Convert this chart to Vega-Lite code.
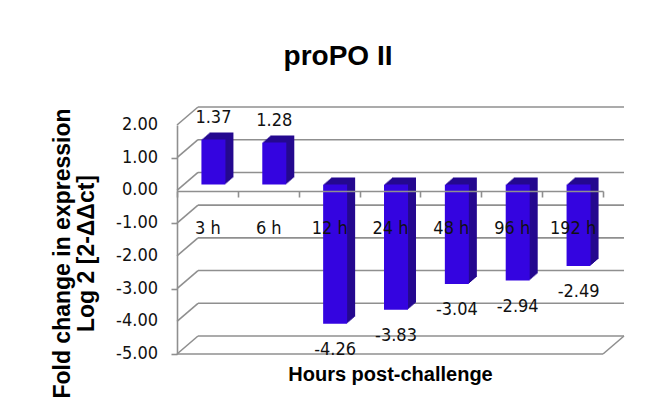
{
  "$schema": "https://vega.github.io/schema/vega-lite/v6.json",
  "width": 426,
  "height": 229,
  "autosize": {"type": "none"},
  "padding": {"left": 177, "top": 125, "right": 59, "bottom": 62},
  "background": "white",
  "config": {
    "view": {"stroke": null},
    "locale": {"number": {"decimal": ".", "thousands": ",", "grouping": [3], "currency": ["$", ""], "minus": "-"}}
  },
  "title": {"text": "proPO II", "font": "Liberation Sans", "fontSize": 28, "fontWeight": "bold", "color": "#000000", "anchor": "middle", "frame": "group", "dx": -52, "baseline": "alphabetic", "offset": 0, "dy": -13},
  "datasets": {
    "bars": [
      {"t": "3 h", "v": 1.37},
      {"t": "6 h", "v": 1.28},
      {"t": "12 h", "v": -4.26},
      {"t": "24 h", "v": -3.83},
      {"t": "48 h", "v": -3.04},
      {"t": "96 h", "v": -2.94},
      {"t": "192 h", "v": -2.49}
    ],
    "grid": [{"g": -5}, {"g": -4}, {"g": -3}, {"g": -2}, {"g": -1}, {"g": 0}, {"g": 1}, {"g": 2}]
  },
  "layer": [
    {
      "data": {"name": "grid"},
      "mark": {"type": "rule", "color": "#8f8f8f", "strokeWidth": 1.6, "xOffset": 21, "x2Offset": 21, "yOffset": -18, "y2Offset": -18},
      "encoding": {
        "x": {
          "datum": "3 h", "bandPosition": 0, "type": "nominal",
          "scale": {"type": "band", "domain": ["3 h", "6 h", "12 h", "24 h", "48 h", "96 h", "192 h"], "paddingInner": 0, "paddingOuter": 0},
          "axis": {
            "title": "Hours post-challenge", "titleFont": "Liberation Sans", "titleFontSize": 20, "titleFontWeight": "bold", "titleColor": "#000000",
            "titleY": 183, "titleBaseline": "middle",
            "offset": -163, "zindex": 1,
            "domainColor": "#8f8f8f", "domainWidth": 1.6,
            "ticks": true, "tickBand": "extent", "tickColor": "#8f8f8f", "tickWidth": 1.6, "tickSize": 6,
            "labelAngle": 0, "labelFont": "Liberation Sans Narrow, DejaVu Sans Condensed, sans-serif", "labelFontSize": 18, "labelColor": "#111111",
            "labelBaseline": "middle", "labelPadding": 31
          }
        },
        "x2": {"datum": "192 h", "bandPosition": 1},
        "y": {
          "field": "g", "type": "quantitative",
          "scale": {"domain": [-5, 2], "nice": false, "zero": false},
          "axis": {
            "title": ["Fold change in expression", "Log 2 [2-ΔΔct]"],
            "titleFont": "Liberation Sans", "titleFontSize": 23, "titleFontWeight": "bold", "titleColor": "#000000", "titleLineHeight": 24,
            "titlePadding": 72, "titleY": 128,
            "values": [-5, -4, -3, -2, -1, 0, 1, 2], "labels": false,
            "domainColor": "#8f8f8f", "domainWidth": 1.6,
            "tickColor": "#8f8f8f", "tickWidth": 1.6, "tickSize": 6,
            "grid": false
          }
        },
        "y2": {"field": "g"}
      }
    },
    {
      "data": {"name": "grid"},
      "mark": {"type": "rule", "color": "#8f8f8f", "strokeWidth": 1.6, "x2Offset": 21, "y2Offset": -18},
      "encoding": {
        "x": {"datum": "3 h", "bandPosition": 0, "type": "nominal"},
        "x2": {"datum": "3 h", "bandPosition": 0},
        "y": {"field": "g", "type": "quantitative"},
        "y2": {"field": "g"}
      }
    },
    {
      "data": {"name": "grid"},
      "mark": {"type": "text", "font": "Liberation Sans Narrow, DejaVu Sans Condensed, sans-serif", "fontSize": 18, "color": "#111111", "align": "right", "baseline": "middle", "xOffset": -19},
      "encoding": {
        "x": {"datum": "3 h", "bandPosition": 0, "type": "nominal"},
        "y": {"field": "g", "type": "quantitative"},
        "text": {"field": "g", "type": "quantitative", "format": ".2f"}
      }
    },
    {
      "data": {"name": "grid"},
      "transform": [{"filter": "datum.g == -5"}],
      "layer": [
        {
          "mark": {"type": "rule", "color": "#8f8f8f", "strokeWidth": 1.6},
          "encoding": {
            "x": {"datum": "3 h", "bandPosition": 0, "type": "nominal"},
            "x2": {"datum": "192 h", "bandPosition": 1},
            "y": {"field": "g", "type": "quantitative"}
          }
        },
        {
          "mark": {"type": "rule", "color": "#8f8f8f", "strokeWidth": 1.6, "x2Offset": 21, "y2Offset": -18},
          "encoding": {
            "x": {"datum": "192 h", "bandPosition": 1, "type": "nominal"},
            "x2": {"datum": "192 h", "bandPosition": 1},
            "y": {"field": "g", "type": "quantitative"},
            "y2": {"field": "g"}
          }
        }
      ]
    },
    {
      "data": {"name": "bars"},
      "encoding": {
        "x": {"field": "t", "type": "nominal", "sort": null},
        "y": {"field": "v", "type": "quantitative"},
        "y2": {"datum": 0}
      },
      "layer": [
        {"mark": {"type": "bar", "width": 24, "color": "#25098f", "xOffset": 14, "yOffset": -13, "y2Offset": -13}},
        {"mark": {"type": "bar", "width": 24, "color": "#25098f", "xOffset": 12.9, "yOffset": -12, "y2Offset": -12}},
        {"mark": {"type": "bar", "width": 24, "color": "#25098f", "xOffset": 11.7, "yOffset": -11, "y2Offset": -11}},
        {"mark": {"type": "bar", "width": 24, "color": "#25098f", "xOffset": 10.6, "yOffset": -10, "y2Offset": -10}},
        {"mark": {"type": "bar", "width": 24, "color": "#25098f", "xOffset": 9.4, "yOffset": -9, "y2Offset": -9}},
        {"mark": {"type": "bar", "width": 24, "color": "#25098f", "xOffset": 8.3, "yOffset": -8, "y2Offset": -8}},
        {"mark": {"type": "bar", "width": 24, "color": "#25098f", "xOffset": 7.1, "yOffset": -7, "y2Offset": -7}},
        {"mark": {"type": "bar", "width": 24, "color": "#3404e0", "xOffset": 6, "yOffset": -6, "y2Offset": -6}}
      ]
    },
    {
      "data": {"name": "bars"},
      "transform": [{"filter": "datum.v > 0"}],
      "mark": {"type": "text", "font": "Liberation Sans Narrow, DejaVu Sans Condensed, sans-serif", "fontSize": 18, "color": "#111111", "baseline": "middle", "xOffset": 6, "yOffset": -28},
      "encoding": {
        "x": {"field": "t", "type": "nominal", "sort": null},
        "y": {"field": "v", "type": "quantitative"},
        "text": {"field": "v", "type": "quantitative", "format": ".2f"}
      }
    },
    {
      "data": {"name": "bars"},
      "transform": [{"filter": "datum.v < 0"}],
      "mark": {"type": "text", "font": "Liberation Sans Narrow, DejaVu Sans Condensed, sans-serif", "fontSize": 18, "color": "#111111", "baseline": "middle", "xOffset": 6, "yOffset": 20},
      "encoding": {
        "x": {"field": "t", "type": "nominal", "sort": null},
        "y": {"field": "v", "type": "quantitative"},
        "text": {"field": "v", "type": "quantitative", "format": ".2f"}
      }
    }
  ]
}
